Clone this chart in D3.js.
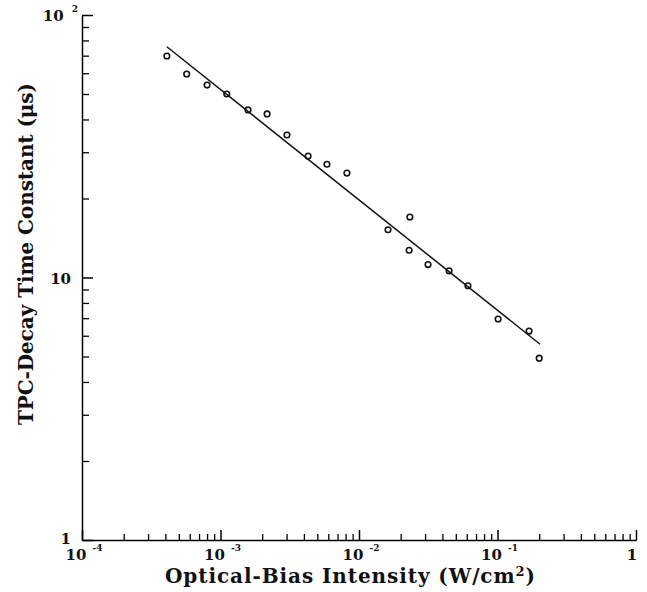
<!DOCTYPE html>
<html>
<head>
<meta charset="utf-8">
<script src="https://cdn.jsdelivr.net/npm/d3@7"></script>
<style>
  body { margin: 0; background: #fff; }
  svg { display: block; }
  text { font-family: "DejaVu Serif", "Liberation Serif", serif; fill: #111; }
</style>
</head>
<body>
<div id="chart"></div>
<script>
const WIDTH = 647;
const HEIGHT = 592;

// intensity (W/cm^2) and decay time constant (us)
const intensity = [4.1e-4, 5.7e-4, 8.0e-4, 1.11e-3, 1.58e-3, 2.17e-3, 3.02e-3, 4.29e-3,
  5.87e-3, 8.18e-3, 1.62e-2, 2.33e-2, 2.30e-2, 3.15e-2, 4.47e-2, 6.12e-2, 0.101, 0.169, 0.200];
const timeConstant = [69.8, 59.6, 54.1, 50.0, 43.5, 42.0, 34.9, 29.0,
  27.0, 25.0, 15.2, 17.0, 12.7, 11.2, 10.6, 9.3, 6.95, 6.25, 4.93];

// fitted power-law line endpoints
const fitX = [4.1e-4, 0.203];
const fitY = [75.7, 5.57];

// tick values
const xMajor = [1e-4, 1e-3, 1e-2, 1e-1, 1];
const xExp = ["-4", "-3", "-2", "-1", null];
const yMajor = [1, 10, 100];
const yExp = [null, null, "2"];

const MARGIN = { TOP: 15, RIGHT: 11, BOTTOM: 52, LEFT: 82 };

const svg = d3.select("#chart")
  .append("svg")
  .attr("width", WIDTH)
  .attr("height", HEIGHT);

const x = d3.scaleLog().domain([1e-4, 1]).range([MARGIN.LEFT, WIDTH - MARGIN.RIGHT]);
const y = d3.scaleLog().domain([1, 100]).range([HEIGHT - MARGIN.BOTTOM, MARGIN.TOP]);

function minors(lo, hi) {
  let out = [];
  for (let d = lo; d < hi; d *= 10) {
    for (let k = 2; k <= 9; k++) out.push(d * k);
  }
  return out;
}

const axisY0 = HEIGHT - MARGIN.BOTTOM;

// X AXIS
svg.append("g")
  .attr("transform", `translate(0, ${axisY0})`)
  .call(d3.axisBottom(x).tickValues(minors(1e-4, 1)).tickSize(-6).tickSizeOuter(0).tickFormat(""))
  .call((g) => g.selectAll("line").style("stroke-width", "1.3px"));

svg.append("g")
  .attr("transform", `translate(0, ${axisY0})`)
  .call(d3.axisBottom(x).tickValues(xMajor).tickSize(-10).tickSizeOuter(0).tickFormat(""))
  .call((g) => g.selectAll("line, path").style("stroke-width", "1.5px"));

// Y AXIS
svg.append("g")
  .attr("transform", `translate(${MARGIN.LEFT}, 0)`)
  .call(d3.axisLeft(y).tickValues(minors(1, 100)).tickSize(-7).tickSizeOuter(0).tickFormat(""))
  .call((g) => g.selectAll("line").style("stroke-width", "1.3px"));

svg.append("g")
  .attr("transform", `translate(${MARGIN.LEFT}, 0)`)
  .call(d3.axisLeft(y).tickValues(yMajor).tickSize(-11).tickSizeOuter(0).tickFormat(""))
  .call((g) => g.selectAll("line, path").style("stroke-width", "1.5px"));

// X TICK LABELS
const xLab = svg.append("g")
  .selectAll("text")
  .data(xMajor)
  .enter()
  .append("text")
  .attr("x", (d, i) => x(d) + (xExp[i] ? 2 : -4))
  .attr("y", axisY0 + 20)
  .style("text-anchor", "middle")
  .style("font-size", "15px")
  .style("font-weight", "bold");

xLab.append("tspan").text((d, i) => (xExp[i] ? "10" : "1"));
xLab.filter((d, i) => xExp[i])
  .append("tspan")
  .attr("dx", 6)
  .attr("dy", -9)
  .style("font-size", "9px")
  .text((d) => xExp[xMajor.indexOf(d)]);

// Y TICK LABELS
const yLab = svg.append("g")
  .selectAll("text")
  .data(yMajor)
  .enter()
  .append("text")
  .attr("x", (d, i) => (yExp[i] ? MARGIN.LEFT - 4 : MARGIN.LEFT - 11))
  .attr("y", (d, i) => y(d) + (d === 1 ? 4 : 6))
  .style("text-anchor", "end")
  .style("font-size", "15px")
  .style("font-weight", "bold");

yLab.append("tspan").text((d) => (d === 1 ? "1" : "10"));
yLab.filter((d, i) => yExp[i])
  .append("tspan")
  .attr("dx", 8)
  .attr("dy", -9)
  .style("font-size", "9px")
  .text((d) => yExp[yMajor.indexOf(d)]);

// FIT LINE
const line = d3.line()
  .x((d) => x(d[0]))
  .y((d) => y(d[1]));

svg.append("path")
  .datum(d3.zip(fitX, fitY))
  .attr("d", line)
  .style("fill", "none")
  .style("stroke", "#111")
  .style("stroke-width", "1.5px");

// POINTS
svg.append("g")
  .selectAll("circle")
  .data(d3.zip(intensity, timeConstant))
  .enter()
  .append("circle")
  .attr("cx", (d) => x(d[0]))
  .attr("cy", (d) => y(d[1]))
  .attr("r", 2.8)
  .style("fill", "none")
  .style("stroke", "#111")
  .style("stroke-width", "1.6px");

// AXIS TITLES
const xTitle = svg.append("text")
  .attr("x", 350)
  .attr("y", 583)
  .attr("textLength", 370)
  .attr("lengthAdjust", "spacing")
  .style("text-anchor", "middle")
  .style("font-size", "20px")
  .style("font-weight", "bold");
xTitle.append("tspan").text("Optical-Bias Intensity (W/cm");
xTitle.append("tspan").attr("dy", -7).style("font-size", "13px").text("2");
xTitle.append("tspan").attr("dy", 7).text(")");

svg.append("text")
  .attr("transform", "translate(33, 254) rotate(-90)")
  .attr("textLength", 342)
  .attr("lengthAdjust", "spacing")
  .style("text-anchor", "middle")
  .style("font-size", "20px")
  .style("font-weight", "bold")
  .text("TPC-Decay Time Constant (μs)");
</script>
</body>
</html>
